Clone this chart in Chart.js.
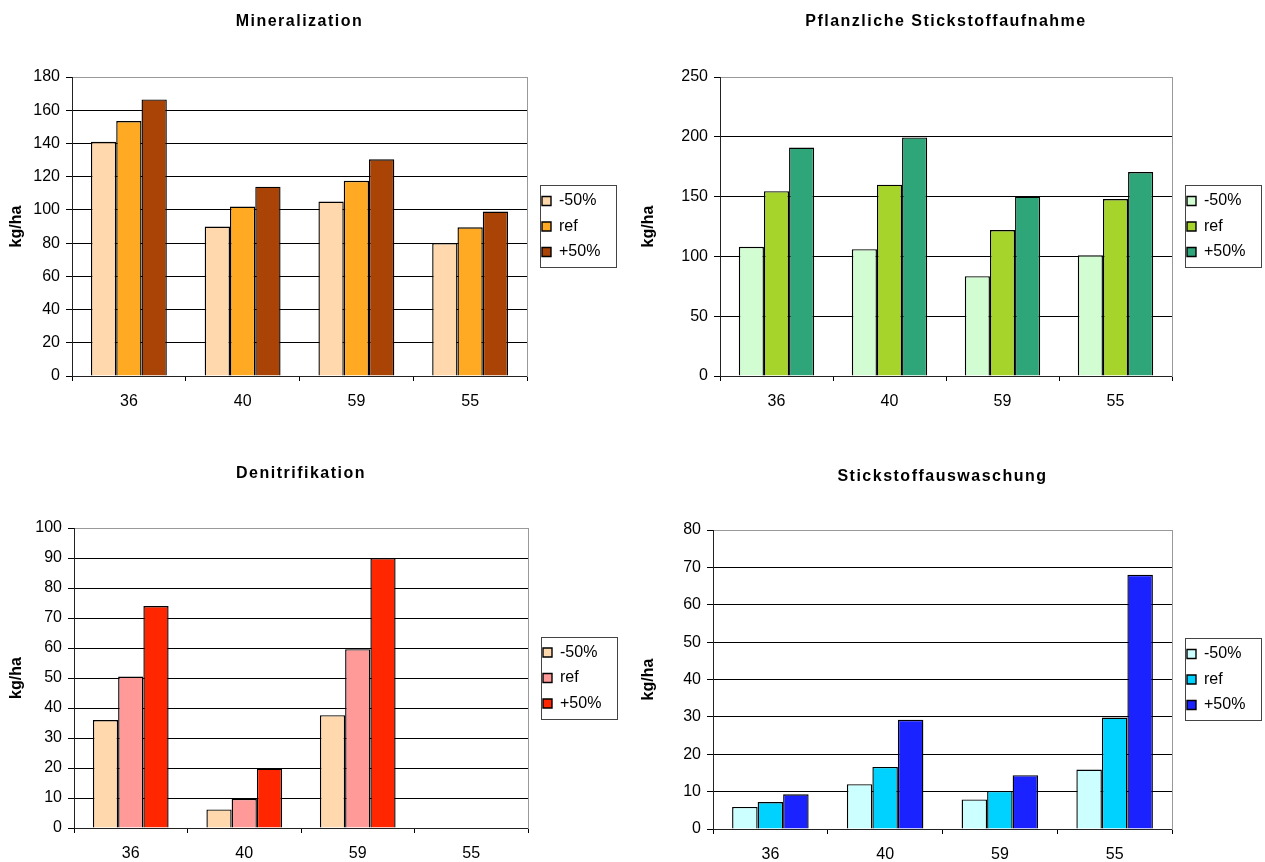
<!DOCTYPE html>
<html>
<head>
<meta charset="utf-8">
<script src="https://cdn.jsdelivr.net/npm/chart.js@4.4.1/dist/chart.umd.min.js"></script>
<style>
  html, body { margin: 0; padding: 0; background: #fff; }
  .panel { position: absolute; }
</style>
</head>
<body>
<div class="panel" style="left:0;top:0;width:632px;height:431px"><canvas id="c1"></canvas></div>
<div class="panel" style="left:632px;top:0;width:633px;height:431px"><canvas id="c2"></canvas></div>
<div class="panel" style="left:0;top:431px;width:632px;height:431px"><canvas id="c3"></canvas></div>
<div class="panel" style="left:632px;top:431px;width:633px;height:431px"><canvas id="c4"></canvas></div>
<script>
// Sites (x categories) and scenario names
const categories = ['36', '40', '59', '55'];
const seriesNames = ['-50%', 'ref', '+50%'];

// Mineralization, kg/ha
const mineralMinus50 = [141, 90, 105, 80];
const mineralRef = [153.5, 102, 117.5, 89.5];
const mineralPlus50 = [166.5, 114, 130.5, 99];

// Plant nitrogen uptake, kg/ha
const uptakeMinus50 = [108, 106, 83.5, 101];
const uptakeRef = [154.5, 160, 122, 148];
const uptakePlus50 = [191, 199.5, 150, 170.5];

// Denitrification, kg/ha (no values for site 55)
const denitMinus50 = [36, 6.2, 37.6, null];
const denitRef = [50.5, 9.7, 59.6, null];
const denitPlus50 = [74, 19.8, 90, null];

// Nitrate leaching, kg/ha
const leachMinus50 = [5.9, 12, 7.9, 15.9];
const leachRef = [7.2, 16.6, 10.2, 29.8];
const leachPlus50 = [9.3, 29.2, 14.4, 68];

Chart.defaults.font.family = "'Liberation Sans', Arial, sans-serif";
Chart.defaults.color = '#000';

const LEGEND_PAD = 9.5;   // legend label padding (also vertical item gap)
const GAP_W = 5.5;        // spacer axis between plot and legend
const LEGEND_W = 80;

// Title with tracked (letter-spaced) lettering, fixed legend width, framed legend
const panelHelpers = {
  id: 'panelHelpers',
  afterInit(chart) {
    const t = chart.titleBlock;
    if (t) {
      const drawTitle = t.draw.bind(t);
      t.draw = function () {
        const c = this.ctx;
        c.save();
        c.letterSpacing = '1.5px';
        drawTitle();
        c.restore();
      };
    }
    const lg = chart.legend;
    if (lg) {
      const fitLegend = lg.fit.bind(lg);
      lg.fit = function () { fitLegend(); this.width = LEGEND_W; };
    }
  },
  afterDraw(chart) {
    const lg = chart.legend;
    if (!lg || !lg.legendHitBoxes || !lg.legendHitBoxes.length) return;
    const hb = lg.legendHitBoxes;
    const first = hb[0], last = hb[hb.length - 1];
    const x0 = first.left - 2;
    const y0 = first.top - 8;
    const y1 = last.top + last.height + 7;
    const c = chart.ctx;
    c.save();
    c.strokeStyle = '#444';
    c.lineWidth = 1;
    c.strokeRect(Math.round(x0) + 0.5, Math.round(y0) + 0.5, 76, Math.round(y1 - y0));
    c.restore();
  }
};

function makePanel(id, cfg) {
  const canvas = document.getElementById(id);
  const W = canvas.parentElement.clientWidth;
  const H = canvas.parentElement.clientHeight;
  const g = cfg.plot;
  const values = [cfg.minus, cfg.ref, cfg.plus];
  return new Chart(canvas, {
    type: 'bar',
    data: {
      labels: categories,
      datasets: seriesNames.map((name, i) => ({
        label: name,
        data: values[i],
        backgroundColor: cfg.colors[i],
        borderColor: '#000',
        borderWidth: 1.4,
        categoryPercentage: 0.667,
        barPercentage: 1.0,
        xAxisID: 'x',
        yAxisID: 'y'
      }))
    },
    options: {
      responsive: true,
      maintainAspectRatio: false,
      animation: false,
      layout: {
        padding: { left: 0, top: 0, bottom: 0, right: W - g.right - GAP_W - LEGEND_W }
      },
      plugins: {
        tooltip: { enabled: false },
        title: {
          display: true,
          text: cfg.title,
          fullSize: false,
          color: '#000',
          font: { size: 16, weight: 'bold', lineHeight: 1.125 },
          padding: { top: cfg.titleY - 9, bottom: g.top - cfg.titleY - 9 }
        },
        legend: {
          display: true,
          position: 'right',
          fullSize: false,
          labels: {
            boxWidth: 9,
            boxHeight: 9,
            padding: LEGEND_PAD,
            color: '#000',
            font: { size: 16 }
          }
        }
      },
      scales: {
        x: {
          type: 'category',
          position: 'bottom',
          grid: {
            offset: true,
            drawOnChartArea: false,
            drawTicks: true,
            tickLength: 5,
            color: '#000'
          },
          border: { color: '#222', width: 1 },
          ticks: { padding: 11, font: { size: 16 }, color: '#000' },
          afterFit(s) { s.height = H - g.bottom; }
        },
        y: {
          type: 'linear',
          position: 'left',
          min: 0,
          max: cfg.yMax,
          ticks: { stepSize: cfg.yStep, padding: 6, font: { size: 16 }, color: '#000' },
          grid: {
            color: (ctx) => (ctx.tick && ctx.tick.value === cfg.yMax ? '#999' : '#000'),
            tickColor: '#000',
            tickLength: 6,
            drawTicks: true
          },
          border: { color: '#222', width: 1 },
          title: {
            display: true,
            text: 'kg/ha',
            color: '#000',
            font: { size: 16, weight: 'bold' },
            padding: { top: 7, bottom: 0 }
          },
          afterFit(s) { s.width = g.left; }
        },
        yr: {
          type: 'linear',
          position: 'right',
          display: true,
          grid: { display: false },
          ticks: { display: false },
          border: { display: true, color: '#999', width: 1 },
          afterFit(s) { s.width = GAP_W; }
        }
      }
    },
    plugins: [panelHelpers]
  });
}

makePanel('c1', {
  title: 'Mineralization', titleY: 22,
  plot: { left: 72, right: 527, top: 77, bottom: 376 },
  yMax: 180, yStep: 20,
  colors: ['#FFD9AD', '#FFAA22', '#AA4406'],
  minus: mineralMinus50, ref: mineralRef, plus: mineralPlus50
});

makePanel('c2', {
  title: 'Pflanzliche Stickstoffaufnahme', titleY: 22,
  plot: { left: 88, right: 540, top: 77, bottom: 376 },
  yMax: 250, yStep: 50,
  colors: ['#D2FCD2', '#A6D42A', '#2EA67A'],
  minus: uptakeMinus50, ref: uptakeRef, plus: uptakePlus50
});

makePanel('c3', {
  title: 'Denitrifikation', titleY: 43,
  plot: { left: 74, right: 528, top: 97, bottom: 397 },
  yMax: 100, yStep: 10,
  colors: ['#FFD9AD', '#FF9A98', '#FF2600'],
  minus: denitMinus50, ref: denitRef, plus: denitPlus50
});

makePanel('c4', {
  title: 'Stickstoffauswaschung', titleY: 46,
  plot: { left: 81, right: 540, top: 99, bottom: 398 },
  yMax: 80, yStep: 10,
  colors: ['#CCFFFF', '#00D2FF', '#1A22FF'],
  minus: leachMinus50, ref: leachRef, plus: leachPlus50
});
</script>
</body>
</html>
